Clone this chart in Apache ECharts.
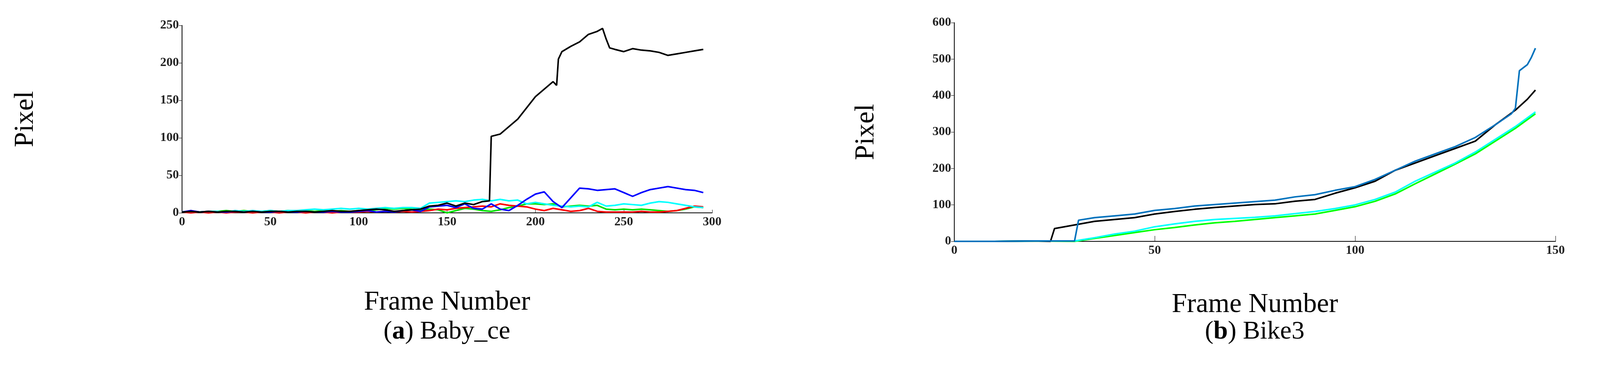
<!DOCTYPE html>
<html><head><meta charset="utf-8">
<script src="https://cdn.jsdelivr.net/npm/echarts@6/dist/echarts.min.js"></script>
<style>html,body{margin:0;background:#fff}#c{width:4266px;height:973px}</style>
</head><body><div id="c"></div>
<script>
// left chart (a) Baby_ce, values every 5 frames
var framesA = [];
for (var f = 0; f <= 295; f += 5) framesA.push(f);
var blueA = [1,3,1,2,1,1,2,1,2,1,1,2,1,1,2,1,1,2,1,1,2,3,1,2,1,3,4,2,8,9,10,7,12,6,5,12,5,3,10,18,25,28,15,7,20,33,32,30,31,32,27,22,27,31,33,35,33,31,30,27];
var cyanA = [1,2,1,2,2,1,3,2,3,2,3,2,3,3,4,5,4,5,6,5,6,5,6,7,6,7,7,6,13,14,15,16,15,17,18,16,18,16,17,12,14,12,10,9,8,9,8,14,9,10,12,11,10,13,15,14,12,10,8,7];
var redA = [1,0,1,0,1,0,1,1,0,1,1,0,1,1,0,1,1,0,1,1,1,2,1,2,1,2,1,2,3,5,4,6,7,8,9,8,12,10,9,8,5,3,6,4,2,3,6,2,1,1,1,1,2,1,1,2,3,6,9,8];
var greenA = [1,2,1,2,2,3,2,3,2,2,3,2,3,2,3,2,3,2,3,2,3,3,4,6,5,6,5,4,5,4,0,3,6,5,3,2,4,7,9,12,12,11,12,8,9,10,9,10,5,4,5,4,5,4,3,2,3,5,8,7];
var blackAx = [0,5,10,15,20,25,30,35,40,45,50,55,60,65,70,75,80,85,90,95,100,105,110,115,120,125,130,135,140,145,150,155,160,165,170,174,175,180,185,190,195,200,205,210,212,213,215,220,225,230,235,238,240,242,245,250,255,260,265,270,275,280,285,290,295];
var blackAy = [1,2,1,2,1,2,2,1,2,1,2,2,1,2,2,1,2,3,2,2,3,4,5,4,2,3,4,5,9,10,13,9,13,11,15,16,102,105,115,125,140,155,165,175,170,205,215,222,228,238,242,246,232,220,218,215,219,217,216,214,210,212,214,216,218];

// right chart (b) Bike3
var blackBx = [0,10,20,24,25,30,35,40,45,50,55,60,65,70,75,80,85,90,95,100,105,110,115,120,125,130,135,140,143,145];
var blackBy = [0,0,1,0,35,45,55,60,65,75,82,88,93,97,101,103,110,115,132,147,165,195,215,235,255,275,320,360,390,415];
var blueBx = [0,10,20,29,30,31,35,40,45,50,55,60,65,70,75,80,85,90,95,100,105,110,115,120,125,130,135,139,140,141,143,144,145];
var blueBy = [0,0,1,1,1,58,65,70,75,85,90,97,101,105,109,113,122,128,140,150,170,195,220,240,260,285,320,350,365,468,485,505,530];
var cyanBx = [0,10,20,30,35,40,45,50,55,60,65,70,75,80,85,90,95,100,105,110,115,120,125,130,135,140,145];
var cyanBy = [0,0,1,1,10,20,28,40,48,55,60,63,66,70,76,82,90,100,115,135,165,190,215,245,280,315,355];
var greenBy = [0,0,1,0,8,16,24,32,38,45,51,55,60,65,70,75,85,95,110,130,158,185,212,240,275,310,350];

function zip(xs, ys) { return xs.map(function (x, i) { return [x, ys[i]]; }); }

var tickFont = {fontFamily: 'Liberation Serif', fontWeight: 'bold', fontSize: 32, color: '#222'};
var nameFont = {fontFamily: 'Liberation Serif', fontSize: 70, color: '#000'};
function line(name, data, color, xi) {
  return {name: name, type: 'line', xAxisIndex: xi, yAxisIndex: xi, data: data, showSymbol: false,
    lineStyle: {color: color, width: 4}, itemStyle: {color: color}, animation: false};
}
var capRich = {b: {fontFamily: 'Liberation Serif', fontSize: 66}, bb: {fontFamily: 'Liberation Serif', fontSize: 66, fontWeight: 'bold'}};

var chart = echarts.init(document.getElementById('c'));
chart.setOption({
  backgroundColor: '#fff',
  grid: [
    {left: 466, right: 2443, top: 65, bottom: 428},
    {left: 2443, right: 284, top: 58, bottom: 355}
  ],
  xAxis: [
    {type: 'value', gridIndex: 0, min: 0, max: 300, interval: 50, name: 'Frame Number', nameLocation: 'middle', nameGap: 195, nameTextStyle: nameFont,
      axisLine: {lineStyle: {color: '#000', width: 2}}, axisTick: {inside: true, length: 8, lineStyle: {color: '#000'}}, axisLabel: tickFont, splitLine: {show: false}},
    {type: 'value', gridIndex: 1, min: 0, max: 150, interval: 50, name: 'Frame Number', nameLocation: 'middle', nameGap: 128, nameTextStyle: nameFont,
      axisLine: {lineStyle: {color: '#000', width: 2}}, axisTick: {inside: true, length: 14, lineStyle: {color: '#000'}}, axisLabel: tickFont, splitLine: {show: false}}
  ],
  yAxis: [
    {type: 'value', gridIndex: 0, min: 0, max: 250, interval: 50, name: 'Pixel', nameLocation: 'middle', nameRotate: 90, nameGap: 365, nameTextStyle: nameFont,
      axisLine: {show: true, lineStyle: {color: '#000', width: 2}}, axisTick: {show: true, length: 8, lineStyle: {color: '#000'}}, axisLabel: tickFont, splitLine: {show: false}},
    {type: 'value', gridIndex: 1, min: 0, max: 600, interval: 100, name: 'Pixel', nameLocation: 'middle', nameRotate: 90, nameGap: 190, nameTextStyle: nameFont,
      axisLine: {show: true, lineStyle: {color: '#000', width: 2}}, axisTick: {show: true, length: 8, lineStyle: {color: '#000'}}, axisLabel: tickFont, splitLine: {show: false}}
  ],
  graphic: [
    {type: 'text', x: 1144, y: 850, style: {text: '{b|(}{bb|a}{b|) Baby_ce}', align: 'center', verticalAlign: 'middle', rich: capRich}},
    {type: 'text', x: 3212, y: 850, style: {text: '{b|(}{bb|b}{b|) Bike3}', align: 'center', verticalAlign: 'middle', rich: capRich}}
  ],
  series: [
    line('green', zip(framesA, greenA), '#00e000', 0),
    line('red', zip(framesA, redA), '#ff0000', 0),
    line('cyan', zip(framesA, cyanA), '#00ffff', 0),
    line('blue', zip(framesA, blueA), '#0000ff', 0),
    line('black', zip(blackAx, blackAy), '#000000', 0),
    line('green', zip(cyanBx, greenBy), '#00ff00', 1),
    line('cyan', zip(cyanBx, cyanBy), '#00ffff', 1),
    line('black', zip(blackBx, blackBy), '#000000', 1),
    line('blue', zip(blueBx, blueBy), '#0072bd', 1)
  ]
});
</script></body></html>
